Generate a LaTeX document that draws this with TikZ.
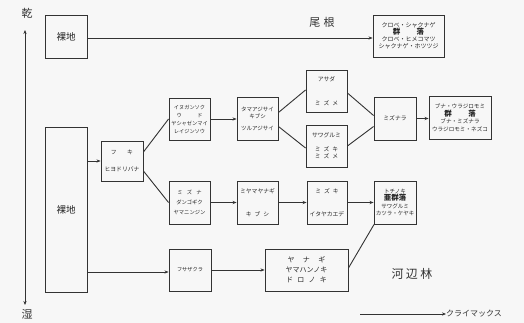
\documentclass[tikz,border=0pt]{standalone}
\usepackage{fontspec}
\setmainfont{Noto Sans CJK JP}
\usetikzlibrary{arrows.meta,calc}
\tikzset{
  ink/.style={draw=black!80, line width=0.9pt},
  box/.style={ink, rectangle, inner sep=0pt, align=center, font=\fontsize{5.8}{7.5}\selectfont, text=black!85},
  arr/.style={ink, -{Stealth[length=4pt,width=3.2pt]}},
  link/.style={ink},
  lbl/.style={text=black!80, inner sep=0pt},
}
\newcommand{\grp}[1]{{\fontsize{7.5}{9}\selectfont\bfseries #1}}
\begin{document}
\begin{tikzpicture}[x=1pt,y=-1pt]
\useasboundingbox[fill=black!3] (0,0) rectangle (524,323);
% axis
\coordinate (dry) at (25,30);
\coordinate (wet) at (25,305);
\draw[ink, {Stealth[length=4pt,width=3.2pt]}-{Stealth[length=4pt,width=3.2pt]}] (dry) -- (wet);
\node[lbl, font=\fontsize{11}{12}\selectfont] (kan) at (27,13) {乾};
\node[lbl, font=\fontsize{11}{12}\selectfont] (shitsu) at (27,314) {湿};
% boxes
\node[box, minimum width=42, minimum height=43, font=\fontsize{9.5}{10}\selectfont] (bare1) at (66,36.5) {裸地};
\node[box, minimum width=71, minimum height=42, font=\fontsize{6}{7}\selectfont] (top) at (408.5,36) {クロベ・シャクナゲ\\\grp{群\hspace{2.2em}落}\\クロベ・ヒメコマツ\\シャクナゲ・ホツツジ};
\node[box, minimum width=42, minimum height=165, font=\fontsize{9.5}{10}\selectfont] (bare2) at (66,209.5) {裸地};
\node[box, minimum width=42, minimum height=40] (fuki) at (122,161) {フ\hspace{1.8em}キ\\[10pt]ヒヨドリバナ};
\node[box, minimum width=41, minimum height=42, font=\fontsize{5.2}{8}\selectfont] (a1) at (189.5,119) {イヌガンソク\\ウ\hspace{3em}ド\\ヤシャゼンマイ\\レイジンソウ};
\node[box, minimum width=41, minimum height=43, font=\fontsize{5.5}{7.5}\selectfont] (a2) at (257.5,118.5) {タマアジサイ\\キブシ\\[4pt]ツルアジサイ};
\node[box, minimum width=41, minimum height=42] (b1) at (326.5,91) {アサダ\\[16pt]ミ\hspace{0.5em}ズ\hspace{0.5em}メ};
\node[box, minimum width=41, minimum height=42] (b2) at (326.5,146) {サワグルミ\\[6pt]ミ\hspace{0.5em}ズ\hspace{0.5em}キ\\ミ\hspace{0.5em}ズ\hspace{0.5em}メ};
\node[box, minimum width=42, minimum height=43] (mizunara) at (395,118.5) {ミズナラ};
\node[box, minimum width=62, minimum height=43, font=\fontsize{5.6}{7.5}\selectfont] (buna) at (460,117.5) {ブナ・ウラジロモミ\\\grp{群\hspace{2.2em}落}\\ブナ・ミズナラ\\ウラジロモミ・ネズコ};
\node[box, minimum width=41, minimum height=43, font=\fontsize{5.3}{10}\selectfont] (c1) at (189.5,202.5) {ミ\hspace{0.8em}ズ\hspace{0.8em}ナ\\ダンゴギク\\ヤマニンジン};
\node[box, minimum width=41, minimum height=43] (c2) at (257.5,202.5) {ミヤマヤナギ\\[16pt]キ\hspace{0.5em}ブ\hspace{0.5em}シ};
\node[box, minimum width=40, minimum height=43] (c3) at (327,202.5) {ミ\hspace{0.5em}ズ\hspace{0.5em}キ\\[16pt]イタヤカエデ};
\node[box, minimum width=42, minimum height=43, font=\fontsize{5.5}{7.5}\selectfont] (tochi) at (395,202.5) {トチノキ\\\grp{亜群落}\\サワグルミ\\カツラ・ケヤキ};
\node[box, minimum width=42, minimum height=42, font=\fontsize{5.2}{6}\selectfont] (d1) at (190,270) {フサザクラ};
\node[box, minimum width=83, minimum height=42, font=\fontsize{7}{10}\selectfont] (d2) at (306.5,270) {ヤ\hspace{1.2em}ナ\hspace{1.2em}ギ\\ヤマハンノキ\\ド\hspace{0.6em}ロ\hspace{0.6em}ノ\hspace{0.6em}キ};
% labels
\node[lbl, font=\fontsize{11}{12}\selectfont] (one) at (322,22) {尾\hspace{0.3em}根};
\node[lbl, font=\fontsize{12}{13}\selectfont] (kahen) at (412,274) {河\hspace{0.2em}辺\hspace{0.2em}林};
\coordinate (cl0) at (360,314);
\node[lbl, font=\fontsize{8}{9}\selectfont, anchor=west] (climax) at (446,314) {クライマックス};
% connectors
\draw[arr] ([yshift=-1.5]bare1.east) -- ([yshift=-1.5]bare1.east -| top.west);
\draw[arr] (bare2.east |- fuki.west) -- (fuki.west);
\draw[arr] ([yshift=-2]bare2.east |- d1.west) -- ([yshift=-2]d1.west);
\draw[link] ([yshift=9]fuki.east) -- (a1.west);
\draw[link] ([yshift=-10]fuki.east) -- (c1.west);
\draw[arr] (a1.east) -- (a1.east -| a2.west);
\draw[link] ([yshift=6]a2.east) -- ([yshift=1]b1.west);
\draw[link] ([yshift=-8]a2.east) -- ([yshift=-2]b2.west);
\draw[link] ([yshift=-2]b1.east) -- ([yshift=3]mizunara.west);
\draw[link] (b2.east) -- ([yshift=-8]mizunara.west);
\draw[arr] (mizunara.east) -- (mizunara.east -| buna.west);
\draw[arr] (c1.east) -- (c2.west);
\draw[arr] (c2.east) -- (c3.west);
\draw[arr] (c3.east) -- (tochi.west);
\draw[arr] (d1.east) -- (d1.east -| d2.west);
\draw[link] ([yshift=2]d2.east) -- ([xshift=0.5]tochi.south west);
\draw[arr] (cl0) -- (climax.west);
\end{tikzpicture}
\end{document}
